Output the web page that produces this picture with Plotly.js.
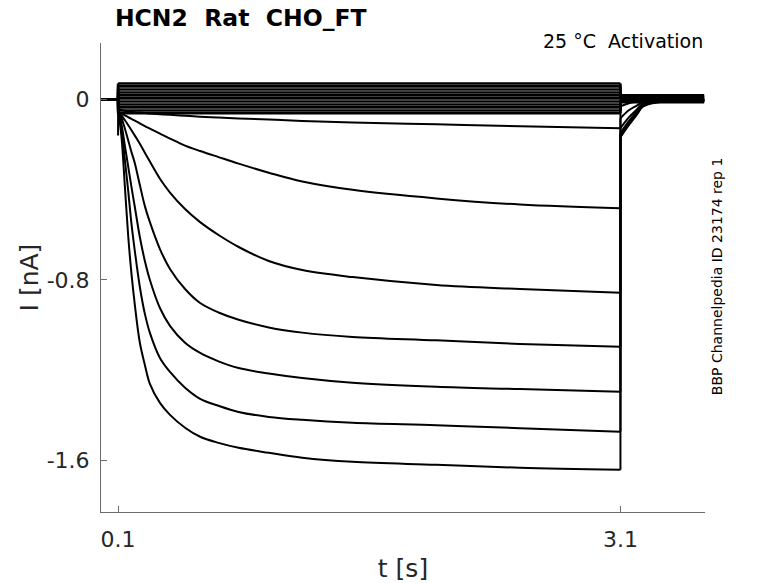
<!DOCTYPE html>
<html>
<head>
<meta charset="utf-8">
<script src="https://cdn.plot.ly/plotly-3.0.1.min.js"></script>
<style>
  html, body { margin: 0; padding: 0; background: #fff; }
  #chart { width: 778px; height: 583px; }
</style>
</head>
<body>
<div id="chart"></div>
<script>
// time bases [s]
const holdT = [0, 0.1];
const pulseT = [0.10, 0.12, 0.14, 0.16, 0.18, 0.20, 0.23, 0.26, 0.29, 0.35, 0.41,
  0.50, 0.59, 0.70, 0.82, 1.0, 1.2, 1.5, 2.0, 2.5, 3.1];
const tailT = [3.1, 3.15, 3.2, 3.23, 3.29, 3.37, 3.47, 3.6];

// activated sweeps during the pulse [nA], smallest to largest
const iA = [-0.045, -0.048, -0.051, -0.053, -0.055, -0.057, -0.059, -0.061, -0.063, -0.066, -0.069,
  -0.073, -0.077, -0.081, -0.085, -0.090, -0.096, -0.103, -0.111, -0.119, -0.128];
const iB = [-0.055, -0.063, -0.071, -0.079, -0.087, -0.095, -0.107, -0.119, -0.130, -0.152, -0.174,
  -0.205, -0.229, -0.256, -0.285, -0.325, -0.364, -0.401, -0.439, -0.466, -0.482];
const iC = [-0.057, -0.072, -0.092, -0.114, -0.137, -0.161, -0.197, -0.237, -0.276, -0.352, -0.413,
  -0.486, -0.544, -0.601, -0.654, -0.716, -0.756, -0.787, -0.822, -0.840, -0.857];
const iD = [-0.057, -0.084, -0.128, -0.181, -0.234, -0.283, -0.380, -0.473, -0.544, -0.663, -0.751,
  -0.840, -0.902, -0.944, -0.976, -1.010, -1.033, -1.052, -1.067, -1.083, -1.096];
const iE = [-0.057, -0.110, -0.203, -0.296, -0.389, -0.477, -0.610, -0.716, -0.800, -0.924, -1.003,
  -1.078, -1.123, -1.160, -1.190, -1.214, -1.234, -1.255, -1.273, -1.283, -1.295];
const iF = [-0.057, -0.128, -0.265, -0.402, -0.552, -0.672, -0.831, -0.950, -1.034, -1.145, -1.207,
  -1.277, -1.326, -1.357, -1.384, -1.406, -1.419, -1.432, -1.443, -1.456, -1.472];
const iG = [-0.049, -0.164, -0.380, -0.601, -0.773, -0.910, -1.078, -1.176, -1.260, -1.344, -1.397,
  -1.454, -1.494, -1.521, -1.543, -1.565, -1.587, -1.605, -1.618, -1.631, -1.640];

// tail currents after the pulse [nA]
const tailA = [-0.031, -0.018, -0.009, -0.004, -0.004, -0.004, -0.004, -0.004];
const tailB = [-0.084, -0.049, -0.027, -0.013, -0.004, -0.004, -0.004, -0.004];
const tailC = [-0.128, -0.080, -0.044, -0.022, -0.009, -0.004, -0.004, -0.004];
const tailD = [-0.150, -0.097, -0.053, -0.027, -0.013, -0.004, -0.004, -0.004];
const tailE = [-0.159, -0.106, -0.057, -0.031, -0.013, -0.004, -0.004, -0.004];
const tailF = [-0.164, -0.110, -0.062, -0.031, -0.013, -0.009, -0.004, -0.004];
const tailG = [-0.168, -0.115, -0.066, -0.035, -0.018, -0.009, -0.004, -0.004];

// non-activating sweeps: flat levels during and after the pulse [nA]
const bandLevels = [0.070, 0.057, 0.043, 0.030, 0.017, 0.004, -0.010, -0.023, -0.036, -0.050, -0.062];
const bandTail = [0.017, 0.013, 0.010, 0.007, 0.004, 0.001, -0.002, -0.005, -0.008, -0.011, -0.013];

// capacitive dip at pulse onset [nA]
const onsetDip = -0.16;

const xTickVals = [0.1, 3.1];
const xTickText = ["0.1", "3.1"];
const yTickVals = [0, -0.8, -1.6];
const yTickText = ["0", "-0.8", "-1.6"];

const FONT = "DejaVu Sans, Arial, sans-serif";
const traces = [];

function addSweep(px, py, tx, ty, width, shape, dip) {
  const line = { color: "#000", width };
  const jumpY = dip == null ? [0, 0, py[0]] : [0, 0, dip, py[0]];
  const jumpX = dip == null ? [holdT[0], holdT[1], holdT[1]] : [holdT[0], holdT[1], holdT[1], holdT[1]];
  traces.push({
    type: "scatter", mode: "lines", hoverinfo: "skip",
    x: [...jumpX, null, px[px.length - 1], tx[0]],
    y: [...jumpY, null, py[py.length - 1], ty[0]],
    line,
  });
  traces.push({ type: "scatter", mode: "lines", hoverinfo: "skip", x: px, y: py, line: { ...line, shape } });
  traces.push({ type: "scatter", mode: "lines", hoverinfo: "skip", x: tx, y: ty, line: { ...line, shape } });
}

bandLevels.forEach((level, k) => {
  addSweep([0.1, 3.1], [level, level], [3.1, 3.6], [bandTail[k], bandTail[k]], 2.6, "linear", null);
});

const pulses = [iA, iB, iC, iD, iE, iF, iG];
const tails = [tailA, tailB, tailC, tailD, tailE, tailF, tailG];
pulses.forEach((p, k) => {
  addSweep(pulseT, p, tailT, tails[k], 2, "spline", k === pulses.length - 1 ? onsetDip : null);
});

const axisBase = {
  showline: true,
  linecolor: "#6b6b6b",
  linewidth: 1,
  mirror: false,
  showgrid: false,
  zeroline: false,
  ticks: "inside",
  ticklen: 6,
  tickcolor: "#6b6b6b",
  tickfont: { family: FONT, size: 22, color: "#262626" },
};

const layout = {
  width: 778,
  height: 583,
  margin: { l: 101, r: 73, t: 43, b: 71 },
  paper_bgcolor: "#fff",
  plot_bgcolor: "#fff",
  showlegend: false,
  title: {
    text: "<b>HCN2\u00a0\u00a0Rat\u00a0\u00a0CHO_FT</b>",
    font: { family: FONT, size: 23.5, color: "#000" },
    xref: "paper", x: 0.023, xanchor: "left",
    yref: "container", y: 0.969, yanchor: "middle",
  },
  xaxis: {
    ...axisBase,
    range: [-0.002, 3.605],
    tickvals: xTickVals,
    ticktext: xTickText,
    ticklabelstandoff: 8,
    title: { text: "t [s]", font: { family: FONT, size: 25, color: "#262626" }, standoff: 8 },
  },
  yaxis: {
    ...axisBase,
    range: [-1.827, 0.249],
    tickvals: yTickVals,
    ticktext: yTickText,
    ticklabelstandoff: 6,
    title: { text: "I [nA]", font: { family: FONT, size: 25, color: "#262626" }, standoff: 0 },
  },
  annotations: [
    {
      text: "25 °C\u00a0\u00a0Activation",
      xref: "paper", yref: "paper", x: 1, y: 1.005,
      xanchor: "right", yanchor: "middle", showarrow: false,
      font: { family: FONT, size: 19, color: "#000" },
    },
    {
      text: "BBP Channelpedia ID 23174 rep 1",
      xref: "paper", yref: "paper", x: 1.02, y: 0.503,
      xanchor: "center", yanchor: "middle", textangle: -90, showarrow: false,
      font: { family: FONT, size: 14, color: "#000" },
    },
  ],
};

Plotly.newPlot("chart", traces, layout, { displayModeBar: false, staticPlot: true });
</script>
</body>
</html>
